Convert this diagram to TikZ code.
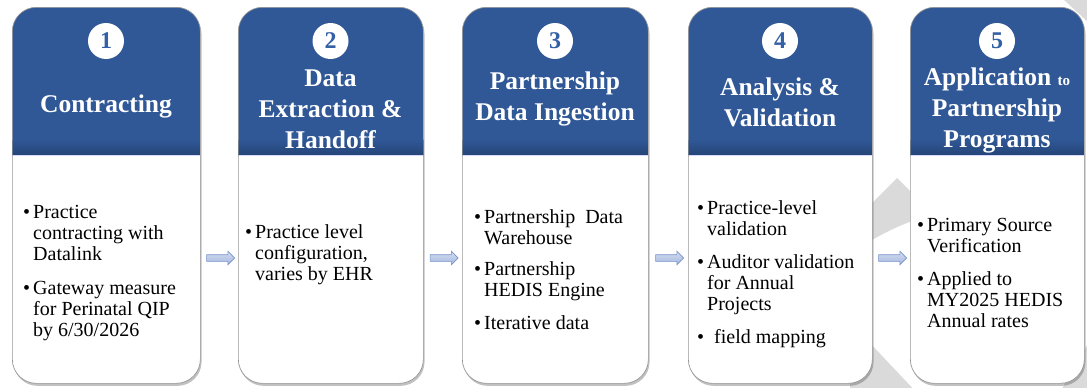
\documentclass[tikz,border=0pt]{standalone}
\usepackage{fontspec}
\setmainfont{Liberation Serif}
\usetikzlibrary{shapes.arrows,shadows}
\definecolor{hdr}{RGB}{48,88,150}
\definecolor{hdrdark}{RGB}{36,68,118}
\definecolor{numc}{RGB}{52,96,165}
\definecolor{wm}{RGB}{218,218,218}
\definecolor{cardline}{RGB}{150,150,150}
\definecolor{arrtop}{RGB}{214,224,243}
\definecolor{arrbot}{RGB}{160,180,220}
\definecolor{arrline}{RGB}{120,145,200}
\tikzset{
  card/.style={rectangle, rounded corners=24pt, draw=cardline, line width=0.7pt,
    fill=white, minimum height=376pt, inner sep=0pt, anchor=north west,
    drop shadow={shadow xshift=1.2pt, shadow yshift=-2.5pt, opacity=0.35, fill=black!70},
    path picture={
      \fill[hdr, sharp corners] (path picture bounding box.north west) rectangle
        ([yshift=-132pt]path picture bounding box.north east);
      \shade[top color=hdr, bottom color=hdrdark, sharp corners] ([yshift=-132pt]path picture bounding box.north west) rectangle
        ([yshift=-148pt]path picture bounding box.north east);
      \draw[white!85!blue, line width=1pt, sharp corners] ([yshift=-148.5pt]path picture bounding box.north west) --
        ([yshift=-148.5pt]path picture bounding box.north east);
    }},
  numcirc/.style={circle, fill=white, minimum size=36pt, inner sep=0pt,
    font=\fontsize{24}{24}\selectfont\bfseries, text=numc},
  title/.style={anchor=base, inner sep=0pt, text=white,
    font=\fontsize{25.5}{31}\selectfont\bfseries},
  body/.style={anchor=base west, inner sep=0pt, text=black,
    font=\fontsize{20}{21}\selectfont},
  blockarrow/.style={single arrow, draw=arrline, line width=0.6pt,
    top color=arrtop, bottom color=arrbot, minimum height=28pt, minimum width=13pt,
    single arrow head extend=3.5pt, single arrow head indent=0pt,
    inner xsep=0pt, inner ysep=3pt},
  wmark/.style={fill=wm, draw=none}
}
\begin{document}
\begin{tikzpicture}[x=1pt,y=-1pt]
\useasboundingbox (0,0) rectangle (1087,388);
% background watermark shapes
\fill[wmark] (897,178) -- (850,225) -- (850,253) .. controls (872,240) and (893,226) .. (930,215) -- (930,211) -- cycle;
\fill[wmark] (850,322) -- (920,396) -- (850,396) -- cycle;
\fill[wmark] (1062,-2) -- (1090,-2) -- (1090,24) -- cycle;
\fill[wmark] (1090,340) -- (1090,392) -- (1060,392) -- cycle;
% cards
\node[card, minimum width=188pt] (c1) at (12,7) {};
\node[card, minimum width=185pt] (c2) at (238,7) {};
\node[card, minimum width=186pt] (c3) at (462,7) {};
\node[card, minimum width=184pt] (c4) at (688,7) {};
\node[card, minimum width=174pt] (c5) at (910,7) {};
% arrows
\node[blockarrow] (a1) at (219,258) {};
\node[blockarrow] (a2) at (442.5,258) {};
\node[blockarrow] (a3) at (668,258) {};
\node[blockarrow] (a4) at (891,258) {};
% numbers
\node[numcirc] (n1) at (106,41) {1};
\node[numcirc] (n2) at (330.5,41) {2};
\node[numcirc] (n3) at (555,41) {3};
\node[numcirc] (n4) at (780,41) {4};
\node[numcirc] (n5) at (997,41) {5};
% titles
\node[title] (t1) at (106,112) {\begin{tabular}[t]{@{}c@{}}Contracting\end{tabular}};
\node[title] (t2) at (330.5,86) {\begin{tabular}[t]{@{}c@{}}Data\\Extraction \&\\Handoff\end{tabular}};
\node[title] (t3) at (555,89) {\begin{tabular}[t]{@{}c@{}}Partnership\\Data Ingestion\end{tabular}};
\node[title] (t4) at (780,95) {\begin{tabular}[t]{@{}c@{}}Analysis \&\\Validation\end{tabular}};
\node[title] (t5) at (997,85) {\begin{tabular}[t]{@{}c@{}}Application~{\fontsize{15}{15}\selectfont to}\\Partnership\\Programs\end{tabular}};
% body texts
\node[body] (b1) at (23,218) {\begin{tabular}[t]{@{}l@{\hspace{3pt}}l@{}}
\textbullet & Practice\\ & contracting with\\ & Datalink\\[13pt]
\textbullet & Gateway measure\\ & for Perinatal QIP\\ & by 6/30/2026\end{tabular}};
\node[body] (b2) at (245,238) {\begin{tabular}[t]{@{}l@{\hspace{3pt}}l@{}}
\textbullet & Practice level\\ & configuration,\\ & varies by EHR\end{tabular}};
\node[body] (b3) at (474,223) {\begin{tabular}[t]{@{}l@{\hspace{3pt}}l@{}}
\textbullet & Partnership\ \ Data\\ & Warehouse\\[10pt]
\textbullet & Partnership\\ & HEDIS Engine\\[12pt]
\textbullet & Iterative data\end{tabular}};
\node[body] (b4) at (697,214) {\begin{tabular}[t]{@{}l@{\hspace{3pt}}l@{}}
\textbullet & Practice-level\\ & validation\\[12pt]
\textbullet & Auditor validation\\ & for Annual\\ & Projects\\[12pt]
\textbullet & \hspace{7pt}field mapping\end{tabular}};
\node[body] (b5) at (917,231) {\begin{tabular}[t]{@{}l@{\hspace{3pt}}l@{}}
\textbullet & Primary Source\\ & Verification\\[12pt]
\textbullet & Applied to\\ & MY2025 HEDIS\\ & Annual rates\end{tabular}};
\end{tikzpicture}
\end{document}
